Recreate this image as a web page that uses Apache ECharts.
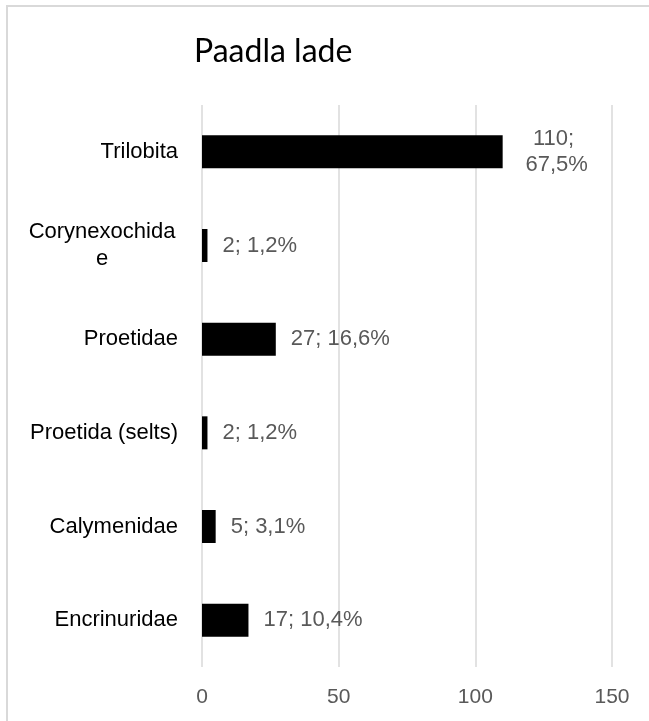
<!DOCTYPE html>
<html>
<head>
<meta charset="utf-8">
<script src="https://cdn.jsdelivr.net/npm/echarts@6/dist/echarts.min.js"></script>
<style>
  html, body { margin: 0; padding: 0; background: #fff; }
  #chart { width: 649px; height: 721px; }
</style>
</head>
<body>
<div id="chart"></div>
<script>
// andmed
const categories = ['Trilobita', 'Corynexochidae', 'Proetidae', 'Proetida (selts)', 'Calymenidae', 'Encrinuridae']
const counts = [110, 2, 27, 2, 5, 17]
const percents = ['67,5%', '1,2%', '16,6%', '1,2%', '3,1%', '10,4%']
const xTicks = [0, 50, 100, 150]

const myChart = echarts.init(document.getElementById('chart'))

const labelFont = '"Liberation Sans", Arial, sans-serif'

// pikk silt (Trilobita) murtakse kahele reale
const barData = counts.map((v, i) => {
  if (i === 0) {
    return {
      value: v,
      label: { width: 72, overflow: 'break', align: 'center', distance: 54, lineHeight: 26 }
    }
  }
  return v
})

const option = {
  backgroundColor: '#fff',
  title: {
    text: 'Paadla lade',
    left: 189,
    top: 31,
    textStyle: {
      fontFamily: 'Lato, "Liberation Sans", sans-serif',
      fontSize: 32,
      fontWeight: 'normal',
      color: '#000'
    }
  },
  graphic: [
    {
      type: 'rect',
      shape: { x: 7, y: 6, width: 700, height: 800 },
      style: { fill: 'none', stroke: '#d9d9d9', lineWidth: 2 },
      silent: true
    }
  ],
  grid: {
    left: 202,
    right: 37,
    top: 105,
    bottom: 54,
    containLabel: false
  },
  xAxis: {
    type: 'value',
    min: xTicks[0],
    max: xTicks[xTicks.length - 1],
    interval: 50,
    axisLine: { show: false },
    axisTick: { show: false },
    splitLine: { lineStyle: { color: '#d9d9d9', width: 1.5 } },
    axisLabel: {
      margin: 20,
      fontFamily: labelFont,
      fontSize: 21,
      color: '#595959'
    }
  },
  yAxis: {
    type: 'category',
    inverse: true,
    data: categories,
    axisLine: { show: false },
    axisTick: { show: false },
    axisLabel: {
      margin: 24,
      fontFamily: labelFont,
      fontSize: 22,
      color: '#000',
      formatter: function (name) {
        // ühesõnaline pikk nimi murtakse nagu Excelis
        if (name.length > 13 && !/\s/.test(name)) {
          return '{w|' + name.slice(0, 13) + '}\n{w|' + name.slice(13) + '}'
        }
        return name
      },
      rich: {
        w: {
          width: 152,
          align: 'center',
          fontFamily: labelFont,
          fontSize: 22,
          color: '#000',
          lineHeight: 27
        }
      }
    }
  },
  series: [
    {
      type: 'bar',
      data: barData,
      barWidth: 33,
      itemStyle: { color: '#000' },
      label: {
        show: true,
        position: 'right',
        distance: 15,
        fontFamily: labelFont,
        fontSize: 22,
        color: '#595959',
        formatter: function (p) {
          return p.value + '; ' + percents[p.dataIndex]
        }
      },
      silent: true
    }
  ]
}

myChart.setOption(option)
</script>
</body>
</html>
